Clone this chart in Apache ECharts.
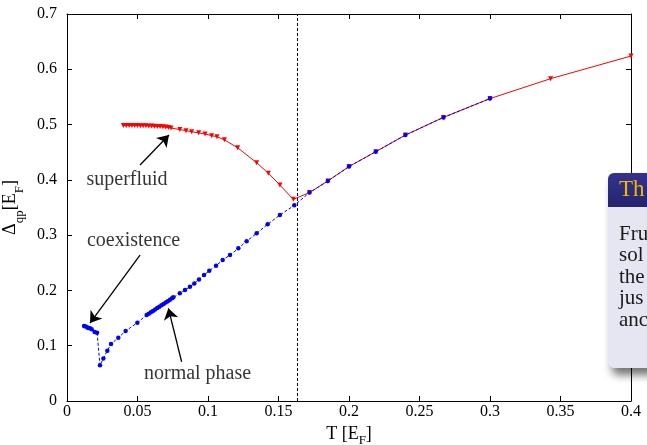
<!DOCTYPE html>
<html><head><meta charset="utf-8">
<script src="https://cdn.jsdelivr.net/npm/echarts@6/dist/echarts.min.js"></script>
<style>html,body{margin:0;padding:0;background:#fff}#c{width:647px;height:445px}</style>
</head><body><div id="c"></div>
<script>
// superfluid branch (red, triangles)
const superfluidT = [0.040,0.042,0.044,0.046,0.048,0.050,0.052,0.054,0.056,0.058,0.060,0.062,0.064,0.066,0.068,0.070,0.072,0.0738,0.080,0.0844,0.0884,0.0934,0.0979,0.1026,0.1064,0.1116,0.121,0.1345,0.1428,0.151,0.1605,0.172,0.185,0.200,0.219,0.240,0.267,0.300,0.343,0.400];
const superfluidGap = [0.4985,0.4985,0.4984,0.4983,0.4982,0.4981,0.4980,0.4979,0.4977,0.4975,0.4973,0.4970,0.4967,0.4963,0.4959,0.4954,0.4948,0.4937,0.4910,0.4890,0.4870,0.4850,0.4830,0.4800,0.4780,0.4725,0.4580,0.4310,0.4120,0.3906,0.3647,0.3770,0.3980,0.4240,0.4510,0.4810,0.5130,0.5470,0.5830,0.6240];
// normal / coexistence branch (blue, dots, dashed)
const normalT = [0.0121,0.0133,0.0145,0.0151,0.0163,0.0175,0.0196,0.0213,0.0234,0.0258,0.0286,0.0312,0.0364,0.0416,0.0499,0.0565,0.0580,0.0595,0.0610,0.0625,0.0640,0.0655,0.0670,0.0685,0.0700,0.0715,0.0730,0.0745,0.0754,0.0800,0.0837,0.0872,0.0903,0.0936,0.0972,0.1009,0.1057,0.1104,0.1156,0.1215,0.1274,0.1345,0.1423,0.1510,0.1612,0.172,0.185,0.200,0.219,0.240,0.267,0.300];
const normalGap = [0.1356,0.1346,0.1330,0.1320,0.1316,0.1300,0.1246,0.1236,0.0646,0.0770,0.0910,0.1030,0.1145,0.1266,0.1416,0.1555,0.1580,0.1605,0.1630,0.1655,0.1680,0.1705,0.1730,0.1755,0.1780,0.1805,0.1830,0.1857,0.1875,0.1947,0.2007,0.2067,0.2127,0.2199,0.2278,0.2356,0.2447,0.2550,0.2640,0.2761,0.2890,0.3033,0.3195,0.3363,0.3540,0.3770,0.3980,0.4240,0.4510,0.4810,0.5130,0.5470];
const criticalT = 0.1635;
const xTicks = [0,0.05,0.1,0.15,0.2,0.25,0.3,0.35,0.4];
const yTicks = [0,0.1,0.2,0.3,0.4,0.5,0.6,0.7];
const annotationText = ['superfluid','coexistence','normal phase'];
const annotationAt = [[0.0426,0.401],[0.0472,0.289],[0.0926,0.0488]];
const arrowFrom = [[0.0518,0.4268],[0.0518,0.264],[0.0813,0.071]];
const arrowTo = [[0.0723,0.481],[0.0163,0.141],[0.0719,0.1676]];
const boxHeader = 'Th';
const boxLines = ['Fru','sol','the','jus','anc'];

const FONT = 'Liberation Serif';
const chart = echarts.init(document.getElementById('c'));
const zip = (a,b) => a.map((v,i)=>[v,b[i]]);
const xMin = xTicks[0], xMax = xTicks[xTicks.length-1], xStep = xTicks[1]-xTicks[0];
const yMin = yTicks[0], yMax = yTicks[yTicks.length-1], yStep = yTicks[1]-yTicks[0];

const baseAxis = {
  axisLine: {show: true, onZero: false, lineStyle: {color: '#000', width: 1}},
  axisTick: {show: true, inside: true, length: 5, lineStyle: {color: '#000'}},
  splitLine: {show: false}
};
function ax(extra){ return Object.assign({}, baseAxis, extra); }

const xLab = {color:'#000', fontFamily: FONT, fontSize: 16, margin: 3, formatter: v => String(+v.toFixed(2))};
const yLab = {color:'#000', fontFamily: FONT, fontSize: 16, margin: 10, formatter: v => String(+v.toFixed(2))};
const subRichY = {s:{fontFamily:FONT, fontSize:13, color:'#000', verticalAlign:'bottom', padding:[0,0,-7,0]}};
const subRichX = {s:{fontFamily:FONT, fontSize:13, color:'#000', verticalAlign:'bottom', padding:[0,0,-4,0]}};

const boxLeft = 608;
const graphics = [
  {type:'rect', shape:{x:boxLeft, y:173, width:60, height:195, r:6}, style:{fill:'#e6e6f2', shadowBlur:8, shadowOffsetX:4, shadowOffsetY:7, shadowColor:'rgba(0,0,0,0.55)'}, z:100},
  {type:'rect', shape:{x:boxLeft, y:173, width:60, height:34, r:[6,6,0,0]}, style:{fill:new echarts.graphic.LinearGradient(0,0,0,1,[{offset:0,color:'#33338e'},{offset:1,color:'#24246f'}])}, z:101},
  {type:'text', x:619, y:190, style:{text:boxHeader, fill:'#f7b500', font:'23px "Liberation Serif"', verticalAlign:'middle'}, z:102}
];
boxLines.forEach((t,i)=>{
  graphics.push({type:'text', x:619, y:234 + i*21.5, style:{text:t, fill:'#1a1a1a', font:'21px "Liberation Serif"', verticalAlign:'middle'}, z:102});
});

chart.setOption({
  animation: false,
  backgroundColor: '#fff',
  grid: {left: 67, right: 16, top: 14, bottom: 44, containLabel: false, outerBoundsMode: 'none'},
  xAxis: [
    ax({type:'value', position:'bottom', min:xMin, max:xMax, interval:xStep, axisLabel:xLab,
        name:'T [E{s|F}]', nameLocation:'middle', nameGap:24,
        nameTextStyle:{color:'#000', fontFamily:FONT, fontSize:18, rich:subRichX}}),
    ax({type:'value', position:'top', min:xMin, max:xMax, interval:xStep, axisLabel:{show:false}})
  ],
  yAxis: [
    ax({type:'value', position:'left', min:yMin, max:yMax, interval:yStep, axisLabel:yLab,
        name:'Δ{s|qp}[E{s|F}]', nameLocation:'middle', nameGap:44,
        nameTextStyle:{color:'#000', fontFamily:FONT, fontSize:18, rich:subRichY}}),
    ax({type:'value', position:'right', min:yMin, max:yMax, interval:yStep, axisLabel:{show:false}})
  ],
  graphic: graphics,
  series: [
    {type:'line', name:'critical', data:[[criticalT,yMin],[criticalT,yMax]], symbol:'none',
     lineStyle:{color:'#000', width:1, type:[3,2]}, silent:true, z:1},
    {type:'line', name:'superfluid', data: zip(superfluidT, superfluidGap), symbol:'triangle', symbolRotate:180, symbolSize:5,
     showAllSymbol:true, lineStyle:{color:'#ff0000', width:1}, itemStyle:{color:'#ff0000'}, z:2},
    {type:'line', name:'normal', data: zip(normalT, normalGap), symbol:'circle', symbolSize:4.5,
     showAllSymbol:true, lineStyle:{color:'#0000ff', width:1, type:[3,2]}, itemStyle:{color:'#0000ff'}, z:3},
    {type:'lines', coordinateSystem:'cartesian2d', data: arrowFrom.map((f,i)=>({coords:[f, arrowTo[i]]})),
     symbol:['none','arrow'], symbolSize:[0,11], lineStyle:{color:'#000', width:1.3, opacity:1}, z:4},
    {type:'scatter', data: annotationAt.map((p,i)=>({value:p, name:annotationText[i]})), symbolSize:0,
     label:{show:true, position:'inside', formatter:'{b}', color:'#000', fontFamily:FONT, fontSize:20}, z:5}
  ]
});
</script></body></html>
